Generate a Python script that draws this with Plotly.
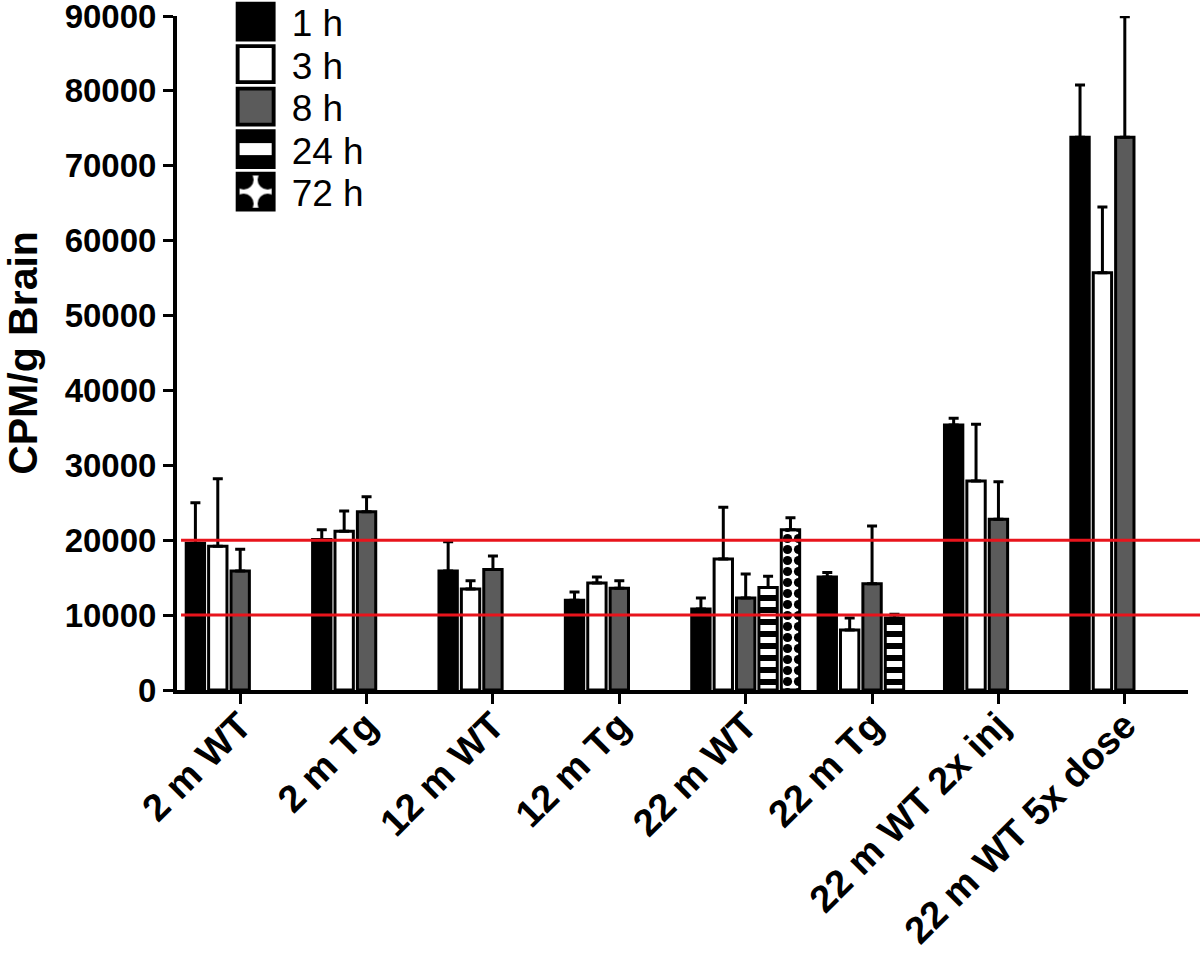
import plotly.graph_objects as go

categories = ["2 m WT", "2 m Tg", "12 m WT", "12 m Tg", "22 m WT", "22 m Tg",
              "22 m WT 2x inj", "22 m WT 5x dose"]

series_names = ["1 h", "3 h", "8 h", "24 h", "72 h"]

mean_1h = [19600, 20100, 15900, 12000, 10800, 15100, 35400, 73800]
top_1h = [25000, 21400, 19800, 13100, 12300, 15700, 36300, 80800]

mean_3h = [19200, 21200, 13500, 14300, 17500, 8000, 27900, 55700]
top_3h = [28200, 23900, 14600, 15100, 24400, 9600, 35500, 64500]

mean_8h = [15900, 23800, 16100, 13600, 12300, 14200, 22800, 73800]
top_8h = [18800, 25800, 17900, 14600, 15500, 21900, 27800, 89900]

mean_24h = [None, None, None, None, 13700, 9600, None, None]
top_24h = [None, None, None, None, 15200, 10100, None, None]

mean_72h = [None, None, None, None, 21400, None, None, None]
top_72h = [None, None, None, None, 23000, None, None, None]

ref_lines = [10000, 20000]
y_ticks = [0, 10000, 20000, 30000, 40000, 50000, 60000, 70000, 80000, 90000]

FONT = "Liberation Sans, Arial, sans-serif"


def plus_err(mean, top):
    return [(t - m) if (m is not None and t is not None) else None for m, t in zip(mean, top)]


def minus_err(mean):
    return [0 if m is not None else None for m in mean]


styles = [
    dict(color="black"),
    dict(color="white"),
    dict(color="#5b5b5b"),
    dict(color="white", pattern=dict(shape="-", fgcolor="black", bgcolor="white",
                                     size=12, solidity=0.5, fillmode="replace")),
    dict(color="white", pattern=dict(shape=".", fgcolor="black", bgcolor="white",
                                     size=11, solidity=0.55, fillmode="replace")),
]

data = [(mean_1h, top_1h), (mean_3h, top_3h), (mean_8h, top_8h),
        (mean_24h, top_24h), (mean_72h, top_72h)]

fig = go.Figure()
for name, (m, t), st in zip(series_names, data, styles):
    marker = dict(line=dict(color="black", width=3))
    marker.update(st)
    fig.add_trace(go.Bar(
        x=categories, y=m, name=name, marker=marker,
        error_y=dict(type="data", symmetric=False, array=plus_err(m, t),
                     arrayminus=minus_err(m), color="black", thickness=3, width=5),
    ))

for v in ref_lines:
    fig.add_shape(type="line", xref="paper", yref="y", x0=0.004, x1=1.02, y0=v, y1=v,
                  line=dict(color="#e8141c", width=3), layer="above")

fig.update_layout(
    width=1200, height=956,
    barmode="group", bargap=0.114, bargroupgap=0.18,
    plot_bgcolor="white", paper_bgcolor="white",
    margin=dict(l=177, r=12, t=16, b=266, autoexpand=False),
    font=dict(family=FONT, color="black"),
    showlegend=True,
    legend=dict(x=0.058, y=1.037, xanchor="left", yanchor="top",
                font=dict(size=37, family=FONT, color="black"),
                bgcolor="rgba(0,0,0,0)", tracegroupgap=0, itemwidth=30),
)

fig.update_xaxes(
    type="category", range=[-0.5, 7.5],
    showline=True, linecolor="black", linewidth=4,
    ticks="outside", ticklen=10, tickwidth=3, tickcolor="black",
    tickangle=-45, tickfont=dict(size=38, family=FONT, color="black", weight="bold"),
    ticklabelstandoff=-16,
    showgrid=False, zeroline=False,
)
fig.update_yaxes(
    range=[0, 90000], tickvals=y_ticks, ticktext=[str(v) for v in y_ticks],
    showline=True, linecolor="black", linewidth=4,
    ticks="outside", ticklen=10, tickwidth=3, tickcolor="black",
    tickfont=dict(size=33, family=FONT, color="black", weight="bold"),
    ticklabeloverflow="allow",
    showgrid=False, zeroline=False,
    title=dict(text="CPM/g Brain", font=dict(size=41, family=FONT, color="black", weight="bold"),
               standoff=16),
)

post = """
document.body.style.margin = '0';
var gd = document.querySelector('.plotly-graph-div');
var y0 = null;
gd.querySelectorAll('.legend .traces').forEach(function(g, i){
  var tr = g.getAttribute('transform') || '';
  var m = /translate\\(\\s*([-\\d.e]+)[\\s,]+([-\\d.e]+)\\s*\\)/.exec(tr);
  if (m) {
    var x = parseFloat(m[1]), y = parseFloat(m[2]);
    if (y0 === null) { y0 = y; }
    g.setAttribute('transform', 'translate(' + x + ',' + (y0 + i * 42.5) + ')');
  }
  g.querySelectorAll('.legendpoints path').forEach(function(p){
    var t = p.getAttribute('transform') || '';
    p.setAttribute('transform', t + ' scale(3)');
    p.style.strokeWidth = '1.3px';
  });
  var txt = g.querySelector('text.legendtext');
  if (txt) {
    var tx = parseFloat(txt.getAttribute('x') || '0');
    txt.setAttribute('x', tx + 16);
  }
});
gd.querySelectorAll('.legend [clip-path]').forEach(function(e){ e.removeAttribute('clip-path'); });
"""

fig.write_html("out.html", post_script=post, config={"displayModeBar": False})
